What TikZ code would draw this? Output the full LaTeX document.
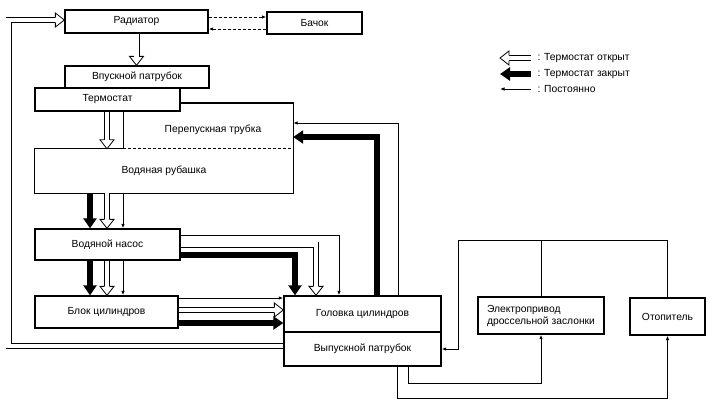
\documentclass[tikz,border=0pt]{standalone}
\usepackage{fontspec}
\setmainfont{Liberation Sans}
\usetikzlibrary{arrows.meta,calc}
\begin{document}
\begin{tikzpicture}[x=1pt,y=-1pt,
  lbl/.style={font=\fontsize{10.3}{12}\selectfont},
  box/.style={draw, line width=1.3pt, inner sep=0pt, lbl},
  bline/.style={line width=1.3pt},
  thn/.style={line width=0.9pt, -{Latex[length=4.5pt,width=3.5pt]}},
  plain/.style={line width=0.9pt},
  dsh/.style={line width=0.9pt, dash pattern=on 3pt off 2pt, -{Latex[length=4.5pt,width=3.5pt]}},
  dline/.style={line width=0.9pt, dash pattern=on 3pt off 2pt},
  thk/.style={line width=5.5pt, line join=miter, -{Triangle[length=10pt,width=13pt]}},
  hol/.style={double, double distance=4.4pt, line width=0.8pt, line join=miter, shorten >=8pt},
  hhead/.pic={\filldraw[fill=white, line width=0.8pt, line join=miter]
     (-9,-2.6) -- (-9,-7) -- (0,0) -- (-9,7) -- (-9,2.6);}
]
\useasboundingbox[fill=white] (0,0) rectangle (720,405);

% ---- boxes
\node[box, minimum width=143, minimum height=23] (rad) at (136.5,21.5) {Радиатор};
\node[box, minimum width=95, minimum height=22] (bach) at (314.5,23) {Бачок};
\node[box, minimum width=144, minimum height=22] (inlet) at (137,77) {Впускной патрубок};
\node[box, minimum width=145, minimum height=23] (therm) at (107.5,99.5) {Термостат};
\node[lbl, draw=none, minimum width=258, minimum height=44, inner sep=0pt] (jacket) at (164,171) {Водяная рубашка};
\node[lbl] (bypass) at (213,130) {Перепускная трубка};
\node[box, minimum width=145, minimum height=31] (pump) at (107.5,244.5) {Водяной насос};
\node[box, minimum width=143, minimum height=32] (block) at (106.5,312) {Блок цилиндров};
\node[box, minimum width=157, minimum height=36] (head) at (362.5,314) {Головка цилиндров};
\node[box, minimum width=157, minimum height=34] (exhaust) at (362.5,349) {Выпускной патрубок};
\node[box, minimum width=126, minimum height=37, align=left] (elec) at (541,315.5) {Электропривод\\дроссельной заслонки};
\node[box, minimum width=75, minimum height=37] (heater) at (667.5,316.5) {Отопитель};

% ---- helper coordinates
\coordinate (cK) at (90,0);
\coordinate (cH) at (107,0);
\coordinate (cT) at (123,0);
\coordinate (yTop) at (0,103);
\coordinate (d1) at (0,17);
\coordinate (d2) at (0,29);
\coordinate (rT) at (0,235);
\coordinate (rH) at (0,244.5);
\coordinate (rK) at (0,255);
\coordinate (hT) at (339,0);
\coordinate (hH) at (316,0);
\coordinate (hK) at (295,0);
\coordinate (bT) at (0,298);
\coordinate (bH) at (0,310);
\coordinate (bK) at (0,323);
\coordinate (hk2) at (377,0);
\coordinate (ht2) at (398,0);
\coordinate (r137) at (0,137);
\coordinate (r123) at (0,123);
\coordinate (cL) at (8.5,0);
\coordinate (rE) at (0,346);
\coordinate (rR) at (0,20);
\coordinate (cR) at (458,0);
\coordinate (rTop) at (0,240);
\coordinate (cB1) at (408,0);
\coordinate (cB2) at (397,0);
\coordinate (rB1) at (0,383);
\coordinate (rB2) at (0,398);

% ---- water jacket / bypass outline
\draw[bline] (jacket.north -| cT) -- (jacket.north west) -- (jacket.south west)
   -- (jacket.south east) -- (jacket.east |- yTop) -- (therm.east |- yTop);
\draw[dline] (jacket.north -| cT) -- (jacket.north east);

% ---- radiator <-> tank
\draw[dsh] (rad.east |- d1) -- (bach.west |- d1);
\draw[dsh] (bach.west |- d2) -- (rad.east |- d2);

% ---- radiator -> inlet
\draw[hol] (rad.south) -- (rad.south |- inlet.north);
\pic[rotate=-90] at (rad.south |- inlet.north) {hhead};

% ---- thermostat -> jacket
\draw[hol] (therm.south -| cH) -- (jacket.north -| cH);
\pic[rotate=-90] at (jacket.north -| cH) {hhead};
\draw[plain] (therm.south -| cT) -- (jacket.north -| cT);

% ---- jacket -> pump
\draw[thk] (jacket.south -| cK) -- (pump.north -| cK);
\draw[hol] (jacket.south -| cH) -- (pump.north -| cH);
\pic[rotate=-90] at (pump.north -| cH) {hhead};
\draw[thn] (jacket.south -| cT) -- (pump.north -| cT);

% ---- pump -> block
\draw[thk] (pump.south -| cK) -- (block.north -| cK);
\draw[hol] (pump.south -| cH) -- (block.north -| cH);
\pic[rotate=-90] at (block.north -| cH) {hhead};
\draw[thn] (pump.south -| cT) -- (block.north -| cT);

% ---- pump -> head
\draw[thn] (pump.east |- rT) -- (hT |- rT) -- (head.north -| hT);
\draw[hol] (pump.east |- rH) -- (hH |- rH) -- (head.north -| hH);
\pic[rotate=-90] at (head.north -| hH) {hhead};
\draw[thk] (pump.east |- rK) -- (hK |- rK) -- (head.north -| hK);

% ---- block -> head
\draw[thn] (block.east |- bT) -- (head.west |- bT);
\draw[hol] (block.east |- bH) -- (head.west |- bH);
\pic at (head.west |- bH) {hhead};
\draw[thk] (block.east |- bK) -- (head.west |- bK);

% ---- head -> bypass
\draw[thk] (head.north -| hk2) -- (hk2 |- r137) -- (jacket.east |- r137);
\draw[thn] (head.north -| ht2) -- (ht2 |- r123) -- (jacket.east |- r123);

% ---- exhaust outlet -> radiator
\draw[hol] (exhaust.west |- rE) -- (cL |- rE) -- (cL |- rR) -- (rad.west |- rR);
\pic at (rad.west |- rR) {hhead};

% ---- throttle body / heater loop
\draw[thn] (heater.north) -- (heater.north |- rTop) -- (cR |- rTop) -- (cR |- exhaust.east) -- (exhaust.east);
\draw[plain] (elec.north) -- (elec.north |- rTop);
\draw[thn] (exhaust.south -| cB1) -- (cB1 |- rB1) -- (elec.south |- rB1) -- (elec.south);
\draw[thn] (exhaust.south -| cB2) -- (cB2 |- rB2) -- (heater.south |- rB2) -- (heater.south);

% ---- legend
\node[lbl, anchor=west] (lg1) at (534,58) {: Термостат открыт};
\node[lbl, anchor=west] (lg2) at (534,74) {: Термостат закрыт};
\node[lbl, anchor=west] (lg3) at (534,89) {: Постоянно};
\draw[hol] ([xshift=-3pt]lg1.west) -- ([xshift=-34pt]lg1.west);
\pic[rotate=180] at ([xshift=-34pt]lg1.west) {hhead};
\draw[thk] ([xshift=-3pt]lg2.west) -- ([xshift=-34pt]lg2.west);
\draw[thn] ([xshift=-3pt]lg3.west) -- ([xshift=-34pt]lg3.west);
\end{tikzpicture}
\end{document}
